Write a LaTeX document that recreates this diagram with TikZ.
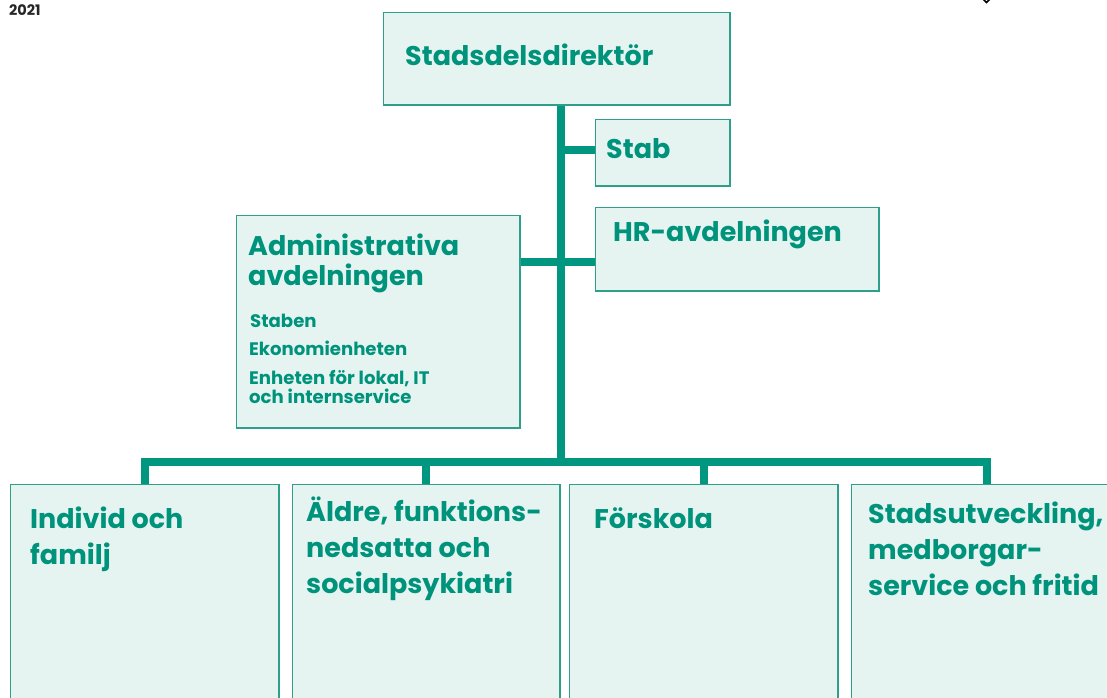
\documentclass[tikz,border=0pt]{standalone}
\usepackage{fontspec}
\setmainfont{Poppins}
\definecolor{teal1}{HTML}{00967F}
\definecolor{tealb}{HTML}{2E9F8B}
\definecolor{boxfill}{HTML}{E6F4F1}
\definecolor{teltxt}{HTML}{00937C}
\tikzset{
  orgbox/.style={draw=tealb, line width=1.5pt, fill=boxfill, rectangle, inner sep=0pt},
  conn/.style={draw=teal1, line width=8pt},
  title/.style={anchor=base west, inner sep=0pt, align=left, text=teltxt,
    font=\bfseries\fontsize{27}{36}\selectfont},
  sub/.style={anchor=base west, inner sep=0pt, align=left, text=teltxt,
    font=\bfseries\fontsize{18.1}{19}\selectfont},
}
\begin{document}
\begin{tikzpicture}[x=1pt,y=-1pt]
\useasboundingbox (0,0) rectangle (1107,697);
\clip (0,0) rectangle (1107,697);
\fill[white] (0,0) rectangle (1107,697);
% boxes (geometry)
\node[orgbox, minimum width=345pt, minimum height=91pt] (dir) at (556.5,58.5) {};
\node[orgbox, minimum width=133pt, minimum height=65pt] (stab) at (662.5,152.5) {};
\node[orgbox, minimum width=282pt, minimum height=82pt] (hr) at (737,249) {};
\node[orgbox, minimum width=282pt, minimum height=211pt] (adm) at (378,321.5) {};
\node[orgbox, minimum width=267pt, minimum height=280pt] (b1) at (144.5,625) {};
\node[orgbox, minimum width=266pt, minimum height=280pt] (b2) at (426,625) {};
\node[orgbox, minimum width=267pt, minimum height=280pt] (b3) at (703.5,625) {};
\node[orgbox, minimum width=270pt, minimum height=280pt] (b4) at (987,625) {};
\coordinate (bus) at (561,462);
\coordinate (hrj) at (561,262);
% connectors
\draw[conn] (dir.south -| bus) -- (bus);
\draw[conn] (stab.west |- 0,150) -- (bus |- 0,150);
\draw[conn] (adm.east |- hrj) -- (hr.west |- hrj);
\draw[conn, line join=miter] (b1.north) -- (b1.north |- bus) -- (b4.north |- bus) -- (b4.north);
\draw[conn] (b2.north) -- (b2.north |- bus);
\draw[conn] (b3.north) -- (b3.north |- bus);
% redraw boxes on top
\foreach \n in {dir,stab,hr,adm,b1,b2,b3,b4}{
  \draw[draw=tealb, line width=1.5pt, fill=boxfill] (\n.north west) rectangle (\n.south east);
}
% texts (base anchor of multi-line nodes = last line)
\node[title] (tdir) at (405,65) {Stadsdelsdirektör};
\node[title] (tstab) at (606,158) {Stab};
\node[title] (thr) at (613,241) {HR-avdelningen};
\node[title] (tadm1) at (248,255) {Administrativa};
\node[title] (tadm2) at (248,285) {avdelningen};
\node[sub] (s1) at (250,327) {Staben};
\node[sub] (s2) at (249,355) {Ekonomienheten};
\node[sub] (s3) at (249,384) {Enheten för lokal, IT};
\node[sub] (s4) at (249,403) {och internservice};
\node[title] (t1) at (30,564) {Individ och\\familj};
\node[title] (t2) at (306,593) {Äldre, funktions-\\nedsatta och\\socialpsykiatri};
\node[title] (t3) at (594,528) {Förskola};
\node[title] (t4) at (868,595) {Stadsutveckling,\\medborgar-\\service och fritid};
\node[anchor=base west, inner sep=0pt, text=black!85, font=\bfseries\fontsize{14.5}{16}\selectfont] (yr) at (9,15) {2021};
\draw[line width=1.5pt] (983,-1) -- (986.5,2.5) -- (990,-1);
\end{tikzpicture}
\end{document}
